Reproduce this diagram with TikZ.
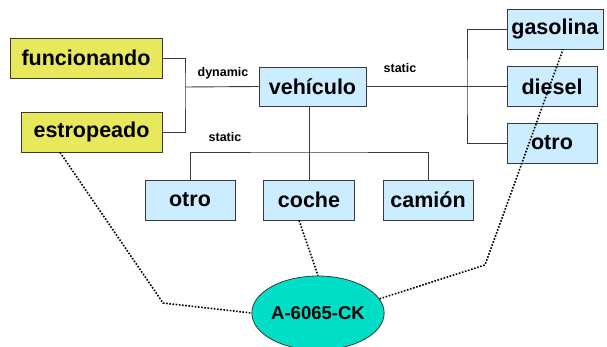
\documentclass[tikz,border=0pt]{standalone}
\usepackage{fontspec}
\setmainfont{Liberation Sans}
\usetikzlibrary{shapes.geometric}

\definecolor{estado}{HTML}{E8E85C}
\definecolor{clase}{HTML}{CCECFF}
\definecolor{objeto}{HTML}{00DEC8}
\definecolor{borde}{HTML}{3A3A3A}

\begin{document}
\begin{tikzpicture}[x=1pt,y=-1pt,
    caja/.style={draw=borde,line width=0.8pt,minimum height=40pt,inner sep=0pt,
        font=\fontsize{21.5}{25}\selectfont\bfseries},
    amarilla/.style={caja,fill=estado},
    azul/.style={caja,fill=clase},
    etiqueta/.style={font=\fontsize{12.5}{14}\selectfont\bfseries,inner sep=0pt},
    linea/.style={draw=borde,line width=0.9pt},
    punteada/.style={line width=1.6pt,dash pattern=on 1.6pt off 1.6pt}]
    \useasboundingbox (0,0) rectangle (607,347);

    \node [amarilla,minimum width=152pt] (funcionando) at (86,58) {funcionando};
    \node [amarilla,minimum width=141pt] (estropeado) at (91.5,132) {estropeado};
    \node [azul,minimum width=107pt,minimum height=39pt] (vehiculo) at (312.5,86.5) {vehículo};

    \node [azul,minimum width=96pt] (gasolina) at (555,29) {gasolina};
    \node [azul,minimum width=90pt] (diesel) at (552,86.5) {diesel};
    \node [azul,minimum width=90pt] (otroB) at (552,143) {otro};

    \node [azul,minimum width=90pt] (otroA) at (190,200) {otro};
    \node [azul,minimum width=91pt] (coche) at (309,200) {coche};
    \node [azul,minimum width=90pt] (camion) at (428,200) {camión};

    \node [ellipse,draw=borde,line width=0.8pt,fill=objeto,minimum width=129pt,
        minimum height=74pt,inner sep=0pt,font=\fontsize{18.5}{22}\selectfont\bfseries]
        (matricula) at (318,313) {A-6065-CK};

    \node [etiqueta] (dinamica) at (223,73) {dynamic};
    \node [etiqueta] (estatica) at (225,137) {static};
    \node [etiqueta] (estaticaB) at (400,68) {static};

    \coordinate (dyn) at (185,87);
    \draw [linea] (funcionando.east) -| (dyn) |- (estropeado.east);
    \draw [linea] (dyn) -- (vehiculo.west);

    \coordinate (sbus) at (309,152);
    \draw [linea] (vehiculo.south -| coche.north) -- (coche.north);
    \draw [linea] (otroA.north) |- (sbus) -| (camion.north);

    \coordinate (fuel) at (467,86.5);
    \draw [linea] (vehiculo.east) -- (diesel.west);
    \draw [linea] (gasolina.west) -| (fuel) |- (otroB.west);

    \coordinate (codoA) at (163,303);
    \coordinate (codoB) at (485,265);
    \draw [punteada] ([xshift=-31.5pt]estropeado.south) -- (codoA) -- (matricula.west);
    \draw [punteada] ([xshift=-10pt]coche.south) -- (matricula.north);
    \draw [punteada] (matricula.13) -- (codoB) -- ([xshift=8pt]gasolina.south);
\end{tikzpicture}
\end{document}
